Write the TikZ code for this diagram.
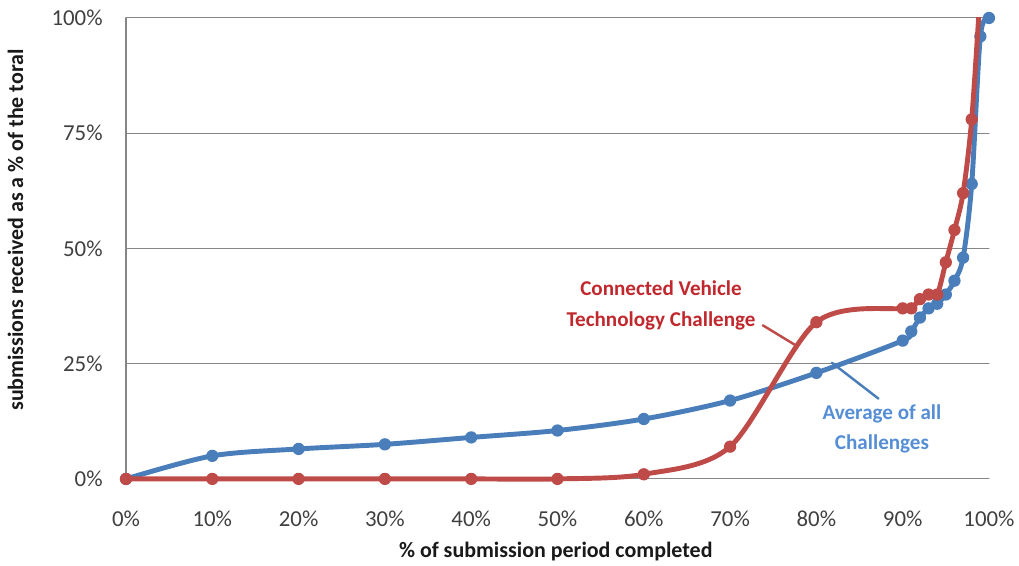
\documentclass[tikz,border=0pt]{standalone}
\usepackage{fontspec}
\setmainfont{Carlito}
\definecolor{avgblue}{HTML}{4A7EBB}
\definecolor{cvred}{HTML}{BE4B48}
\definecolor{cvtext}{HTML}{C0282D}
\definecolor{avgtext}{HTML}{558ED5}
\definecolor{gridcol}{HTML}{868686}
\definecolor{labcol}{HTML}{404040}
\tikzset{
  ticklab/.style={text=labcol, inner sep=0pt},
  axtitle/.style={font=\fontsize{12.5}{15}\selectfont\bfseries, text=black!90},
  serieslab/.style={font=\fontsize{12}{17.6}\selectfont\bfseries, align=center, inner sep=2pt},
}
\begin{document}
\begin{tikzpicture}[x=0.1726cm, y=0.0922cm, line join=round, line cap=round, font=\fontsize{13}{15}\selectfont]
  \def\xmax{100} \def\ymax{100} % plot area
  \def\mrk{3.5pt}
  \useasboundingbox (-14.6,-18.87) rectangle (103.48,103.9);
  \foreach \y in {0,25,50,75,100}
    \draw[gridcol, line width=0.6pt] (0,\y) -- (\xmax,\y);
  \draw[gridcol, line width=0.6pt] (0,0) -- (0,\ymax);
  \foreach \y in {0,25,50,75,100}
    \node[ticklab, anchor=east] (ylab\y) at (-2.67,\y) {\y\%};
  \foreach \x in {0,10,...,100}
    \node[ticklab] (xlab\x) at (\x,-8.6) {\x\%};
  \node[axtitle] (xtitle) at (49.8,-15.8) {\% of submission period completed};
  \node[axtitle, rotate=90] (ytitle) at (-12.8,54) {submissions received as a \% of the toral};
  % average of all challenges
  \draw[avgblue, line width=2.8pt] plot[smooth] coordinates {(0,0) (10,5) (20,6.5) (30,7.5) (40,9) (50,10.5) (60,13) (70,17) (80,23) (90,30) (91,32) (92,35) (93,37) (94,38) (95,40) (96,43) (97,48) (98,64) (99,96) (100,100)};
  \foreach \x/\y in {0/0,10/5,20/6.5,30/7.5,40/9,50/10.5,60/13,70/17,80/23,90/30,91/32,92/35,93/37,94/38,95/40,96/43,97/48,98/64,99/96,100/100}
    \fill[avgblue] (\x,\y) circle (\mrk);
  % connected vehicle technology challenge
  \begin{scope}
    \clip (-5,-5) rectangle (105,\ymax);
    \draw[cvred, line width=2.8pt] plot[smooth] coordinates {(0,0) (10,0) (20,0) (30,0) (40,0) (50,0) (60,1) (70,7) (80,34) (90,37) (91,37) (92,39) (93,40) (94,40) (95,47) (96,54) (97,62) (98,78) (99,106)};
    \foreach \x/\y in {0/0,10/0,20/0,30/0,40/0,50/0,60/1,70/7,80/34,90/37,91/37,92/39,93/40,94/40,95/47,96/54,97/62,98/78,99/106}
      \fill[cvred] (\x,\y) circle (\mrk);
  \end{scope}
  % labels
  \node[serieslab, text=cvtext] (cvlabel) at (62,37.6) {Connected Vehicle\\Technology Challenge};
  \coordinate (cvtip) at (77.5,29.1);
  \draw[cvred, line width=1.4pt] ([xshift=2pt,yshift=5pt]cvlabel.south east) -- (cvtip);
  \node[serieslab, text=avgtext] (avglabel) at (87.6,10.85) {Average of all\\Challenges};
  \coordinate (avgtip) at (81.8,25.2);
  \draw[avgblue, line width=1.4pt] ([xshift=-2pt,yshift=1pt]avglabel.north) -- (avgtip);
\end{tikzpicture}
\end{document}
